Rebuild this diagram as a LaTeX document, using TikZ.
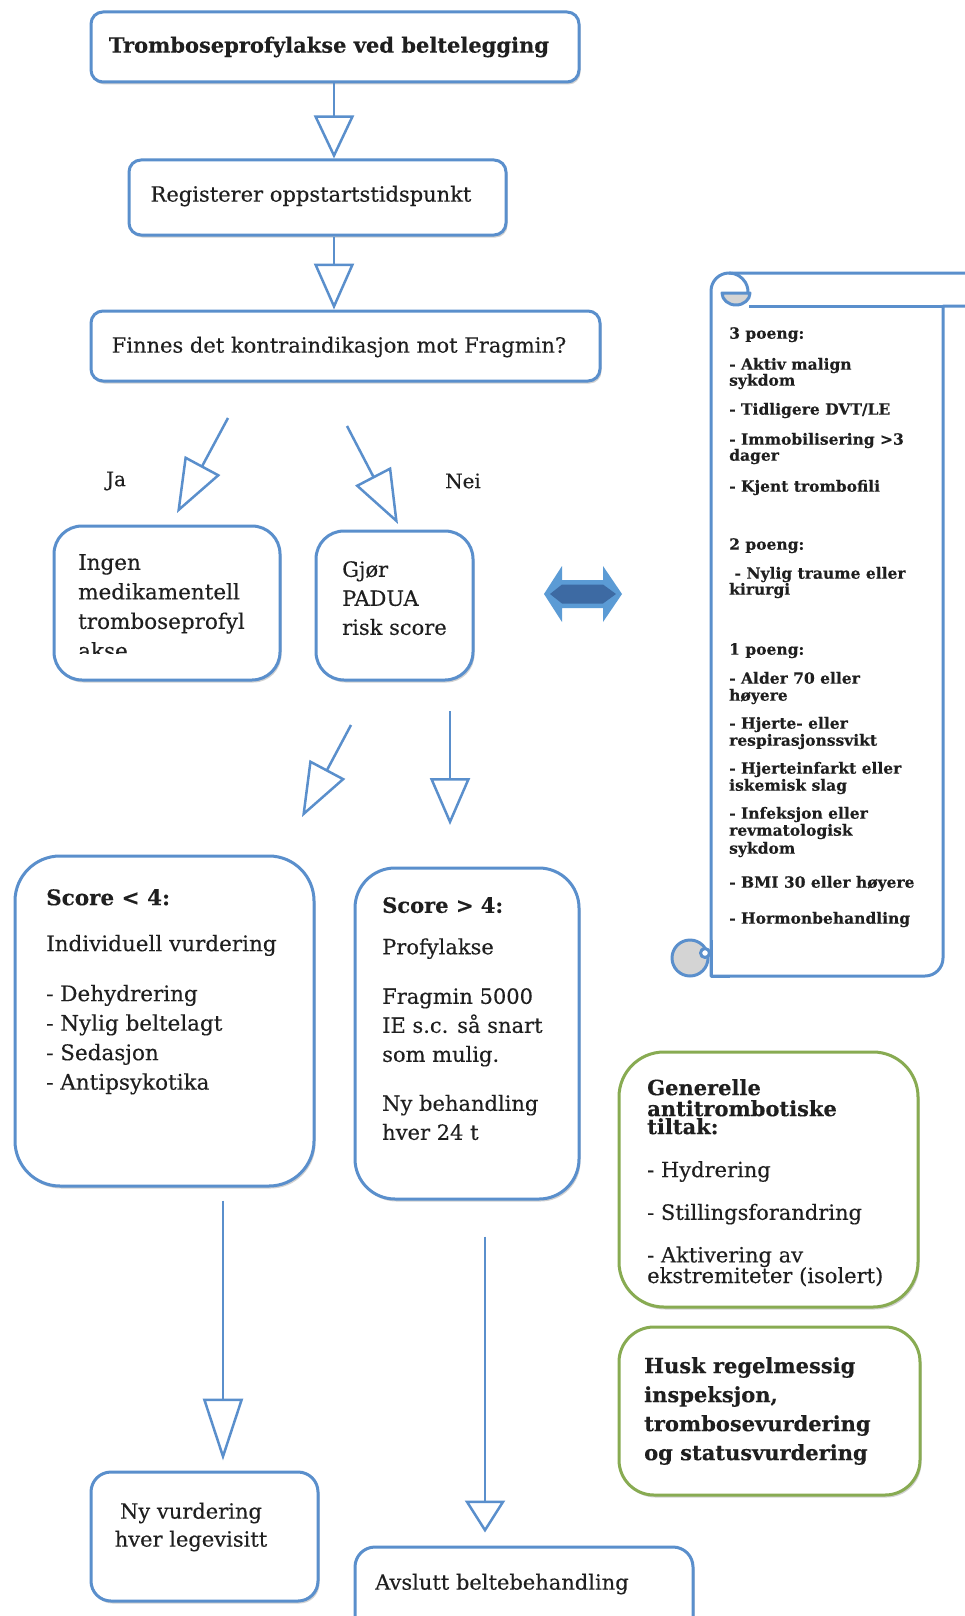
\documentclass[tikz,border=0pt]{standalone}
\usepackage{fontspec}
\setmainfont{DejaVu Serif}[FakeBold=0.25]
\usetikzlibrary{arrows.meta,shadows}
\definecolor{boxblue}{HTML}{5A8FCC}
\definecolor{boxgreen}{HTML}{88AB52}
\definecolor{txt}{HTML}{1F1F1F}
\definecolor{arrlight}{HTML}{5B9BD5}
\definecolor{arrdark}{HTML}{3D6AA3}
\definecolor{curlgray}{HTML}{D4D4D4}
\newcommand\fsz[2]{\fontsize{#1}{#2}\selectfont}
\tikzset{
  softshadow/.style={drop shadow={shadow xshift=1.5pt, shadow yshift=-2.5pt, opacity=0.18, fill=black}},
  bluebox/.style={draw=boxblue, line width=3pt, fill=white, rounded corners=#1, inner sep=0pt, softshadow},
  bluebox/.default=12pt,
  greenbox/.style={draw=boxgreen, line width=3pt, fill=white, rounded corners=#1, inner sep=0pt, softshadow},
  greenbox/.default=40pt,
  txtnode/.style={text=txt, inner sep=0pt, align=left, anchor=north west},
  ctext/.style={text=txt, inner sep=0pt, align=center},
  flowarrow/.style={draw=boxblue, line width=2.5pt, line join=miter, -{Triangle[open, length=#1, width=40pt]}},
  flowarrow/.default=45pt,
  scrollline/.style={draw=boxblue, line width=3pt, line join=round},
}
\begin{document}
\begin{tikzpicture}[x=1pt,y=1pt]
\useasboundingbox (0,0) rectangle (965,-1616);
\clip (0,0) rectangle (965,-1616);
\fill[white] (0,0) rectangle (965,-1616);

% ---------- main chain ----------
\node[bluebox, minimum width=488pt, minimum height=70pt] (b1) at (335,-47) {};
\node[ctext, font=\fsz{21}{25}\bfseries] (t1) at (329,-47) {Tromboseprofylakse ved beltelegging};

\node[bluebox, minimum width=377pt, minimum height=75pt] (b2) at (317.5,-197.5) {};
\node[ctext, font=\fsz{21}{25}] (t2) at (311,-196) {Registerer oppstartstidspunkt};

\node[bluebox, minimum width=509pt, minimum height=70pt] (b3) at (345.5,-346) {};
\node[ctext, font=\fsz{21}{25}] (t3) at (339,-347) {Finnes det kontraindikasjon mot Fragmin?};

\coordinate (axmain) at (334,0);
\draw[flowarrow=43pt] (b1.south -| axmain) -- (b2.north -| axmain);
\draw[flowarrow=46pt] (b2.south -| axmain) -- (b3.north -| axmain);

% ---------- Ja / Nei ----------
\coordinate (jaS) at (228,-418);
\coordinate (jaE) at (177,-513);
\coordinate (neiS) at (347,-426);
\coordinate (neiE) at (398,-524);
\draw[flowarrow=54pt] (jaS) -- (jaE);
\draw[flowarrow=54pt] (neiS) -- (neiE);
\node[ctext, font=\fsz{20}{24}] (ja) at (116,-481) {Ja};
\node[ctext, font=\fsz{20}{24}] (nei) at (463,-481) {Nei};

\node[bluebox=28pt, minimum width=226pt, minimum height=154pt] (ingen) at (167,-603) {};
\begin{scope}
\clip (60,-535) rectangle (275,-653);
\node[txtnode, font=\fsz{21.5}{29.5}] (tingen) at (78,-554) {Ingen\\medikamentell\\tromboseprofyl\\akse};
\end{scope}

\node[bluebox=28pt, minimum width=157pt, minimum height=149pt] (gjor) at (394.5,-605.5) {};
\node[txtnode, font=\fsz{21}{29}] (tgjor) at (342,-561) {Gjør\\PADUA\\risk score};

% ---------- double arrow ----------
\fill[arrlight] (544,-594) -- (562,-566) -- (562,-580) -- (603,-580) -- (603,-566) -- (622,-594)
   -- (603,-622) -- (603,-608) -- (562,-608) -- (562,-622) -- cycle;
\fill[arrdark] (550,-594) -- (562,-584.5) -- (603,-584.5) -- (616,-594) -- (603,-603.5) -- (562,-603.5) -- cycle;

% ---------- scroll ----------
\filldraw[scrollline, fill=white] (711,-976) -- (711,-600) [rounded corners=18pt] -- (711,-273) -- (990,-273)
   [sharp corners] -- (990,-306) -- (943,-306) [rounded corners=18pt] -- (943,-976) [sharp corners] -- cycle;
\draw[scrollline] (749,-306) -- (943,-306);
\draw[scrollline] (729,-273) arc[start angle=90, end angle=-10, radius=19];
\filldraw[scrollline, fill=curlgray] (722,-293) -- (750,-293) arc[start angle=0, end angle=-180, x radius=14, y radius=12] -- cycle;
\filldraw[scrollline, fill=curlgray] (690,-958) circle[radius=18];
\filldraw[scrollline, fill=white] (705,-953) circle[radius=4.5];
\draw[scrollline] (711,-940) -- (711,-976) -- (730,-976);

\node[txtnode, font=\fsz{15.5}{16}\bfseries] (tscroll) at (729,-327) {%
3 poeng:\\[15pt]
- Aktiv malign\\
sykdom\\[13pt]
- Tidligere DVT/LE\\[14pt]
- Immobilisering >3\\
dager\\[15pt]
- Kjent trombofili\\[42pt]
2 poeng:\\[13pt]
\ - Nylig traume eller\\
kirurgi\\[44pt]
1 poeng:\\[13pt]
- Alder 70 eller\\[1pt]
høyere\\[12pt]
- Hjerte- eller\\[1pt]
respirasjonssvikt\\[12pt]
- Hjerteinfarkt eller\\[1pt]
iskemisk slag\\[12pt]
- Infeksjon eller\\[1pt]
revmatologisk\\[2pt]
sykdom\\[18pt]
- BMI 30 eller høyere\\[20pt]
- Hormonbehandling};

% ---------- second level ----------
\coordinate (sS) at (351,-725);
\coordinate (sE) at (302,-817);
\draw[flowarrow=54pt] (sS) -- (sE);
\coordinate (vS) at (450,-711);
\coordinate (vE) at (450,-825);
\draw[flowarrow=47pt] (vS) -- (vE);

\node[bluebox=45pt, minimum width=299pt, minimum height=330pt] (slow) at (164.5,-1021) {};
\node[txtnode, font=\fsz{21.5}{29.5}] (tslow) at (46,-889) {%
{\bfseries Score < 4:}\\[16.5pt]
Individuell vurdering\\[20.5pt]
- Dehydrering\\
- Nylig beltelagt\\
- Sedasjon\\
- Antipsykotika};

\node[bluebox=40pt, minimum width=224pt, minimum height=331pt] (shigh) at (467,-1033.5) {};
\node[txtnode, font=\fsz{21}{29}] (tshigh) at (382,-897) {%
{\bfseries Score > 4:}\\[12.5pt]
Profylakse\\[20.5pt]
Fragmin 5000\\
IE s.c. så snart\\
som mulig.\\[20pt]
Ny behandling\\
hver 24 t};

% ---------- green boxes ----------
\node[greenbox=45pt, minimum width=299pt, minimum height=255pt] (g1) at (768.5,-1179.5) {};
\node[txtnode, font=\fsz{21}{20}] (tg1) at (647,-1079) {%
{\bfseries Generelle}\\[1pt]
{\bfseries antitrombotiske}\\[-2pt]
{\bfseries tiltak:}\\[23pt]
- Hydrering\\[21pt]
- Stillingsforandring\\[21pt]
- Aktivering av\\[-1pt]
ekstremiteter (isolert)};

\node[greenbox=35pt, minimum width=301pt, minimum height=168pt] (g2) at (769.5,-1411) {};
\node[txtnode, font=\fsz{21}{29}\bfseries] (tg2) at (644,-1357) {%
Husk regelmessig\\
inspeksjon,\\
trombosevurdering\\
og statusvurdering};

% ---------- bottom ----------
\node[bluebox=20pt, minimum width=227pt, minimum height=129pt] (nyv) at (204.5,-1536.5) {};
\node[ctext, font=\fsz{21}{28}] (tnyv) at (191,-1527) {Ny vurdering\\hver legevisitt};

\node[bluebox=20pt, minimum width=338pt, minimum height=110pt] (avsl) at (524,-1602) {};
\node[text=txt, inner sep=0pt, anchor=west, font=\fsz{21}{25}] (tavsl) at (375,-1584) {Avslutt beltebehandling};

\coordinate (axlow) at (223,0);
\coordinate (axhigh) at (485,0);
\draw[flowarrow=62pt] ([yshift=-13pt]slow.south -| axlow) -- ([yshift=10pt]nyv.north -| axlow);
\draw[flowarrow=32pt] ([yshift=-36pt]shigh.south -| axhigh) -- ([yshift=13pt]avsl.north -| axhigh);
\end{tikzpicture}
\end{document}
